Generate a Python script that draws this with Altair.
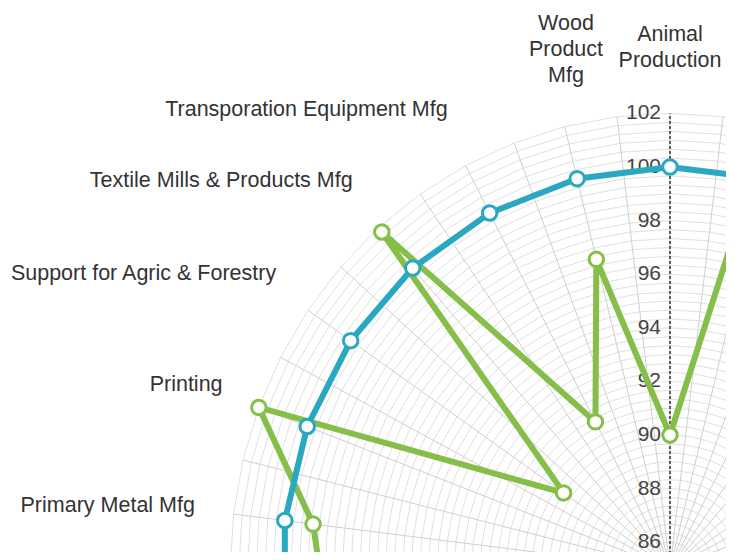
import altair as alt
import pandas as pd
import numpy as np

# ---------------- data ----------------
categories = [
    "Animal Production", "Apparel Mfg", "Aquaculture", "Beverage & Tobacco Mfg",
    "Chemical Mfg", "Computer & Electronic Mfg", "Crop Production",
    "Electrical Equipment Mfg", "Fabricated Metal Mfg", "Fishing, Hunting & Trapping",
    "Food Mfg", "Forestry & Logging", "Furniture Mfg", "Leather Mfg", "Machinery Mfg",
    "Miscellaneous Mfg", "Nonmetallic Mineral Mfg", "Paper Mfg", "Petroleum & Coal Mfg",
    "Plastics & Rubber Mfg", "Primary Metal Mfg", "Printing",
    "Support for Agric & Forestry", "Textile Mills & Products Mfg",
    "Transporation Equipment Mfg", "Wood Product Mfg",
]

# categories whose points are (partly) in view, in drawing order
path_categories = [
    "Plastics & Rubber Mfg", "Primary Metal Mfg", "Printing",
    "Support for Agric & Forestry", "Textile Mills & Products Mfg",
    "Transporation Equipment Mfg", "Wood Product Mfg", "Animal Production",
    "Apparel Mfg",
]
green_values = [98.4, 98.9, 102.0, 90.0, 101.8, 91.2, 96.9, 90.0, 105.0]
blue_values = [100, 100, 100, 100, 100, 100, 100, 100, 100]

left_labels = [
    "Transporation Equipment Mfg", "Textile Mills & Products Mfg",
    "Support for Agric & Forestry", "Printing", "Primary Metal Mfg",
]
top_labels = ["Wood Product Mfg", "Animal Production"]
top_label_lines = [["Wood", "Product", "Mfg"], ["Animal", "Production"]]

tick_values = [86, 88, 90, 92, 94, 96, 98, 100, 102]

# ---------------- geometry / style ----------------
N = len(categories)
RMIN, RMAX = 85, 102
KX, KY = 388 / 15, 402 / 15          # px per unit
CX, CY = 670, 569                     # centre in page px
W, H = 718, 544
xs = alt.Scale(domain=[(8 - CX) / KX, (8 + W - CX) / KX], nice=False, zero=False)
ys = alt.Scale(domain=[(CY - 8 - H) / KY, (CY - 8) / KY], nice=False, zero=False)
X = alt.X("x:Q", scale=xs, axis=None)
Y = alt.Y("y:Q", scale=ys, axis=None)
GREEN = "#86BE4A"
BLUE = "#2AA8C1"
FONT = "Liberation Sans"
LABEL_SIZE = 21.5
LH = 26


def polar(chart, rx="datum.value - 85", ry="datum.value - 85"):
    return chart.transform_calculate(
        theta=f"2*PI*datum.idx/{N}",
    ).transform_calculate(
        x=f"({rx})*sin(datum.theta)",
        y=f"({ry})*cos(datum.theta)",
    )


# grid rings
n_spokes = 2 * N
ring_vals = [RMIN + j / 3 for j in range(1, 3 * (RMAX - RMIN) + 1)]
rings = pd.DataFrame(
    [(rv, k) for rv in ring_vals for k in range(n_spokes + 1)], columns=["value", "k"]
)
rings["idx"] = rings["k"] / 2
ring_layer = polar(alt.Chart(rings)).mark_line(
    color="#e0e0e0", strokeWidth=1, clip=True
).encode(x=X, y=Y, detail="value:N", order="k:Q")

spokes = pd.DataFrame({"k": list(range(n_spokes))})
spokes["idx"] = spokes["k"] / 2
spoke_layer = alt.Chart(spokes).transform_calculate(
    theta=f"2*PI*datum.idx/{N}"
).transform_calculate(
    x=f"{RMAX - RMIN}*sin(datum.theta)",
    y=f"{RMAX - RMIN}*cos(datum.theta)",
    x0="0", y0="0",
).mark_rule(color="#cfcfcf", strokeWidth=1, clip=True).encode(
    x=alt.X("x0:Q", scale=xs, axis=None), y=alt.Y("y0:Q", scale=ys, axis=None),
    x2="x:Q", y2="y:Q",
)

axis_df = pd.DataFrame({"y0": [0], "y1": [RMAX - RMIN], "x0": [0]})
axis_layer = alt.Chart(axis_df).mark_rule(
    color="#333333", strokeWidth=1.5, strokeDash=[3, 2], clip=True
).encode(x=alt.X("x0:Q", scale=xs, axis=None), y=alt.Y("y0:Q", scale=ys, axis=None), y2="y1:Q")

ticks = pd.DataFrame({"tick": tick_values})
tick_layer = alt.Chart(ticks).transform_calculate(
    x="0", y=f"datum.tick - {RMIN}"
).mark_text(
    align="right", baseline="middle", dx=-9, fontSize=21, font=FONT, color="#444444"
).encode(x=X, y=Y, text="tick:Q")

# series
series = pd.DataFrame({
    "category": path_categories * 2,
    "series": ["green"] * len(path_categories) + ["blue"] * len(path_categories),
    "value": green_values + blue_values,
    "seq": list(range(len(path_categories))) * 2,
})
series["idx"] = series["category"].map(categories.index)


def series_layers(name, color):
    base = polar(alt.Chart(series)).transform_filter(f"datum.series == '{name}'")
    line = base.mark_line(color=color, strokeWidth=6, clip=True).encode(
        x=X, y=Y, order="seq:Q"
    )
    pts = base.mark_point(
        shape="circle", filled=True, fill="white", stroke=color, strokeWidth=3,
        size=210, opacity=1, clip=True,
    ).encode(x=X, y=Y)
    return line, pts


g_line, g_pts = series_layers("green", GREEN)
b_line, b_pts = series_layers("blue", BLUE)

# category labels (placed on an ellipse just outside the grid)
left_df = pd.DataFrame({"category": left_labels})
left_df["idx"] = left_df["category"].map(categories.index)
left_layer = polar(alt.Chart(left_df), rx="18.5", ry="19.35").mark_text(
    align="right", baseline="middle", fontSize=LABEL_SIZE, font=FONT, color="#333333"
).encode(x=X, y=Y, text="category:N")

# wrapped labels near the top: last line sits on the anchor, lines stack upward
top_layers = []
for cat, lines in zip(top_labels, top_label_lines):
    df = pd.DataFrame({"category": [cat], "label": [lines]})
    df["idx"] = df["category"].map(categories.index)
    top_layers.append(
        polar(alt.Chart(df), rx="16.8", ry="18.95").mark_text(
            align="center", baseline="middle", fontSize=LABEL_SIZE, font=FONT,
            color="#333333", lineHeight=LH, dy=-(len(lines) - 1) * LH,
        ).encode(x=X, y=Y, text="label")
    )

chart = alt.layer(
    ring_layer, spoke_layer, axis_layer, tick_layer,
    g_line, b_line, g_pts, b_pts, left_layer, *top_layers,
).properties(
    width=W, height=H, padding=0, autosize="none", background="white"
).configure_view(stroke=None)

chart.save("out.html", embed_options={"renderer": "svg", "actions": False})
